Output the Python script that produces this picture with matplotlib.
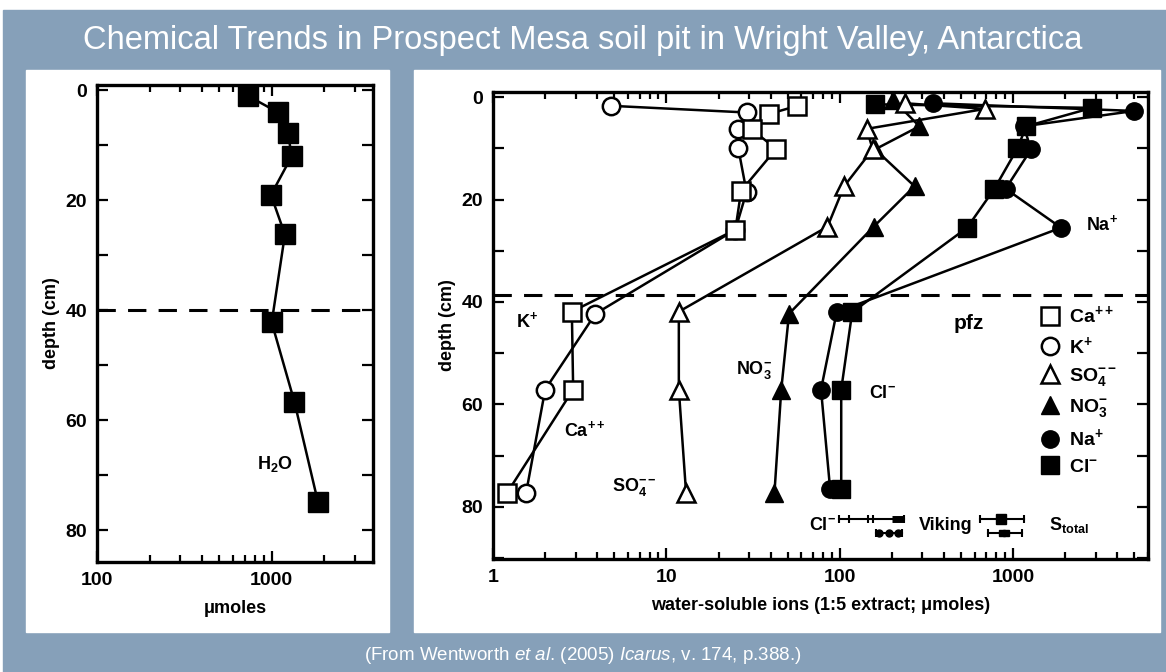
import matplotlib
matplotlib.use('Agg')
import matplotlib.pyplot as plt
from matplotlib import font_manager
from matplotlib.lines import Line2D
from matplotlib.patches import Rectangle
from matplotlib.ticker import LogLocator, FuncFormatter, MultipleLocator, NullFormatter

# left panel: soil water (umoles) vs depth (cm)
h2o_depth = [1, 4, 7.7, 12, 19, 26.2, 42.2, 56.7, 74.9]
h2o_umol = [733, 1090, 1240, 1300, 990, 1190, 1000, 1350, 1840]

# right panel: water-soluble ions (umoles) vs depth (cm)
ca_depth = [1.7, 3.3, 6.3, 10.1, 18.3, 25.9, 41.9, 57.1, 77.4]
ca_umol = [57, 39, 31, 43, 27, 25, 2.85, 2.9, 1.2]
k_depth = [1.7, 3.0, 6.3, 10.0, 18.5, 25.9, 42.3, 57.1, 77.4]
k_umol = [4.8, 29, 26, 26, 29, 25, 3.9, 2.0, 1.55]
so4_depth = [1.2, 2.3, 6.2, 10.2, 17.4, 25.3, 41.9, 57.1, 77.4]
so4_umol = [239, 690, 143, 155, 106, 85, 11.8, 11.8, 13]
no3_depth = [0.5, 5.7, 10.2, 17.4, 25.3, 42.3, 57.1, 77.4]
no3_umol = [203, 288, 160, 270, 157, 51, 46, 42]
na_depth = [1.2, 2.7, 5.7, 10.2, 17.9, 25.5, 42, 57.1, 76.5]
na_umol = [347, 5000, 1150, 1270, 906, 1890, 96, 78, 88]
cl_depth = [1.4, 2.1, 5.7, 10, 17.9, 25.5, 42, 57.1, 76.5]
cl_umol = [160, 2850, 1190, 1060, 780, 543, 118, 102, 102]

pfz_left = 40
pfz_right = 38.7

# Viking lander ranges drawn near the bottom
viking_cl_upper = [99, 236]
viking_cl_lower = [162, 228]
viking_s_upper = [648, 1160]
viking_s_lower = [714, 1120]

ion_labels = ['Ca$^{++}$', 'K$^{+}$', 'SO$_4^{--}$', 'NO$_3^{-}$', 'Na$^{+}$', 'Cl$^{-}$']

BLUE = '#86A0B9'
W, H = 1166, 672

def has_font(name):
    try:
        font_manager.findfont(font_manager.FontProperties(family=name), fallback_to_default=False)
        return True
    except ValueError:
        return False

plt.rcParams['font.family'] = ['Liberation Sans', 'DejaVu Sans']
plt.rcParams['font.weight'] = 'bold'
plt.rcParams['mathtext.fontset'] = 'custom'
plt.rcParams['mathtext.rm'] = 'Liberation Sans:bold'
plt.rcParams['mathtext.bf'] = 'Liberation Sans:bold'
plt.rcParams['mathtext.it'] = 'Liberation Sans:style=italic:weight=normal'

narrow = has_font('Liberation Sans Narrow')
title_family = ['Liberation Sans Narrow', 'DejaVu Sans'] if narrow else ['Liberation Sans', 'DejaVu Sans']

fig = plt.figure(figsize=(W / 100, H / 100), dpi=100)
fig.patch.set_facecolor('white')

def fbox(x0, y0, x1, y1):
    # pixel box (top-left origin) -> figure fraction rect
    return (x0 / W, 1 - y1 / H, (x1 - x0) / W, (y1 - y0) / H)

x, y, w, h = fbox(3, 10, W, H)
fig.add_artist(Rectangle((x, y), w, h, transform=fig.transFigure, color=BLUE, zorder=-10))
for bx in [(26, 70, 389, 632), (414, 70, 1160, 632)]:
    x, y, w, h = fbox(*bx)
    fig.add_artist(Rectangle((x, y), w, h, transform=fig.transFigure, color='white', zorder=-9))

fig.text(0.5, 1 - 40 / H, 'Chemical Trends in Prospect Mesa soil pit in Wright Valley, Antarctica',
         color='white', fontsize=26 if narrow else 23.5, fontweight='normal', family=title_family,
         ha='center', va='center')
fig.text(0.5, 1 - 655 / H,
         '(From Wentworth $\\it{et\\ al}$. (2005) $\\it{Icarus}$, v. 174, p.388.)',
         color='white', fontsize=15 if narrow else 13.5, fontweight='normal', family=title_family,
         ha='center', va='center')

ax1 = fig.add_axes(fbox(97, 85, 373, 562))
ax2 = fig.add_axes(fbox(493, 92, 1148, 559))

fmt = FuncFormatter(lambda v, p: f'{v:g}')
for ax in (ax1, ax2):
    ax.set_xscale('log')
    ax.xaxis.set_major_locator(LogLocator(base=10))
    ax.xaxis.set_minor_locator(LogLocator(base=10, subs=range(2, 10)))
    ax.xaxis.set_major_formatter(fmt)
    ax.xaxis.set_minor_formatter(NullFormatter())
    ax.set_yticks([0, 20, 40, 60, 80])
    ax.yaxis.set_minor_locator(MultipleLocator(10))
    ax.tick_params(which='both', direction='in', top=True, right=True, labelsize=14, width=1.6)
    ax.tick_params(which='major', length=8, pad=7)
    ax.tick_params(which='minor', length=5)
    ax.tick_params(axis='y', which='minor', length=8)
    for s in ax.spines.values():
        s.set_linewidth(2.4)
    ax.set_ylabel('depth (cm)', fontsize=13, fontweight='bold')

# left panel
ax1.set_xlim(100, 3800)
ax1.set_ylim(85.8, -1)
ax1.axhline(pfz_left, color='black', lw=2.2, dashes=(6, 4))
ax1.plot(h2o_umol, h2o_depth, '-s', color='black', lw=1.8, ms=14)
ax1.text(1050, 68, 'H$_2$O', fontsize=13, ha='center', va='center')
ax1.set_xlabel('\u03bcmoles', fontsize=13, fontweight='bold', labelpad=8)

# right panel
ax2.set_xlim(1, 6000)
ax2.set_ylim(90.2, -1)
ax2.axhline(pfz_right, color='black', lw=2.2, dashes=(6, 4))

open_kw = dict(color='black', lw=1.8, ms=12.5, mfc='white', mec='black', mew=1.8)
fill_kw = dict(color='black', lw=1.8, ms=12.5, mfc='black', mec='black')
ax2.plot(na_umol, na_depth, '-o', **fill_kw)
ax2.plot(cl_umol, cl_depth, '-s', **fill_kw)
ax2.plot(no3_umol, no3_depth, '-^', **fill_kw)
ax2.plot(so4_umol, so4_depth, '-^', **open_kw)
ax2.plot(k_umol, k_depth, '-o', **open_kw)
ax2.plot(ca_umol, ca_depth, '-s', **open_kw)

lab_kw = dict(fontsize=13, ha='center', va='center')
ax2.text(557, 44.3, 'pfz', fontsize=15, ha='center', va='center')
ax2.text(1.58, 43.8, 'K$^{+}$', **lab_kw)
ax2.text(3.4, 65, 'Ca$^{++}$', **lab_kw)
ax2.text(6.5, 76.2, 'SO$_4^{--}$', **lab_kw)
ax2.text(32, 53.3, 'NO$_3^{-}$', **lab_kw)
ax2.text(177, 57.8, 'Cl$^{-}$', **lab_kw)
ax2.text(3270, 24.8, 'Na$^{+}$', **lab_kw)
ax2.text(80, 83.6, 'Cl$^{-}$', **lab_kw)
ax2.text(408, 83.6, 'Viking', **lab_kw)
ax2.text(2090, 83.6, 'S$_{\\rm total}$', **lab_kw)

bar_kw = dict(color='black', lw=1.5, marker='|', ms=6, mew=1.5)
ax2.plot(viking_cl_upper, [82.3, 82.3], **bar_kw)
ax2.plot([113, 145, 155], [82.3] * 3, ls='none', marker='|', ms=6, mew=1.5, color='black')
ax2.plot([200, 236], [82.3, 82.3], color='black', lw=5, solid_capstyle='butt')
ax2.plot(viking_cl_lower, [85.2, 85.2], **bar_kw)
ax2.plot([169, 192, 218], [85.2] * 3, ls='none', marker='o', ms=5, color='black')
ax2.plot(viking_s_upper, [82.3, 82.3], **bar_kw)
ax2.plot([851], [82.3], ls='none', marker='s', ms=7, color='black')
ax2.plot(viking_s_lower, [85.2, 85.2], **bar_kw)
ax2.plot([860, 910], [85.2, 85.2], ls='none', marker='s', ms=5, color='black')

handles = [
    Line2D([], [], ls='none', marker='s', ms=12.5, mfc='white', mec='black', mew=1.8),
    Line2D([], [], ls='none', marker='o', ms=12.5, mfc='white', mec='black', mew=1.8),
    Line2D([], [], ls='none', marker='^', ms=12.5, mfc='white', mec='black', mew=1.8),
    Line2D([], [], ls='none', marker='^', ms=12.5, mfc='black', mec='black'),
    Line2D([], [], ls='none', marker='o', ms=12.5, mfc='black', mec='black'),
    Line2D([], [], ls='none', marker='s', ms=12.5, mfc='black', mec='black'),
]
ax2.legend(handles, ion_labels, loc='upper left', bbox_to_anchor=(0.835, 0.545), frameon=False,
           fontsize=14, handlelength=1.0, handletextpad=0.5, labelspacing=0.45, borderaxespad=0,
           borderpad=0)
ax2.set_xlabel('water-soluble ions (1:5 extract; \u03bcmoles)', fontsize=13, fontweight='bold', labelpad=8)

fig.savefig('out.png', dpi=100, facecolor=fig.get_facecolor())
